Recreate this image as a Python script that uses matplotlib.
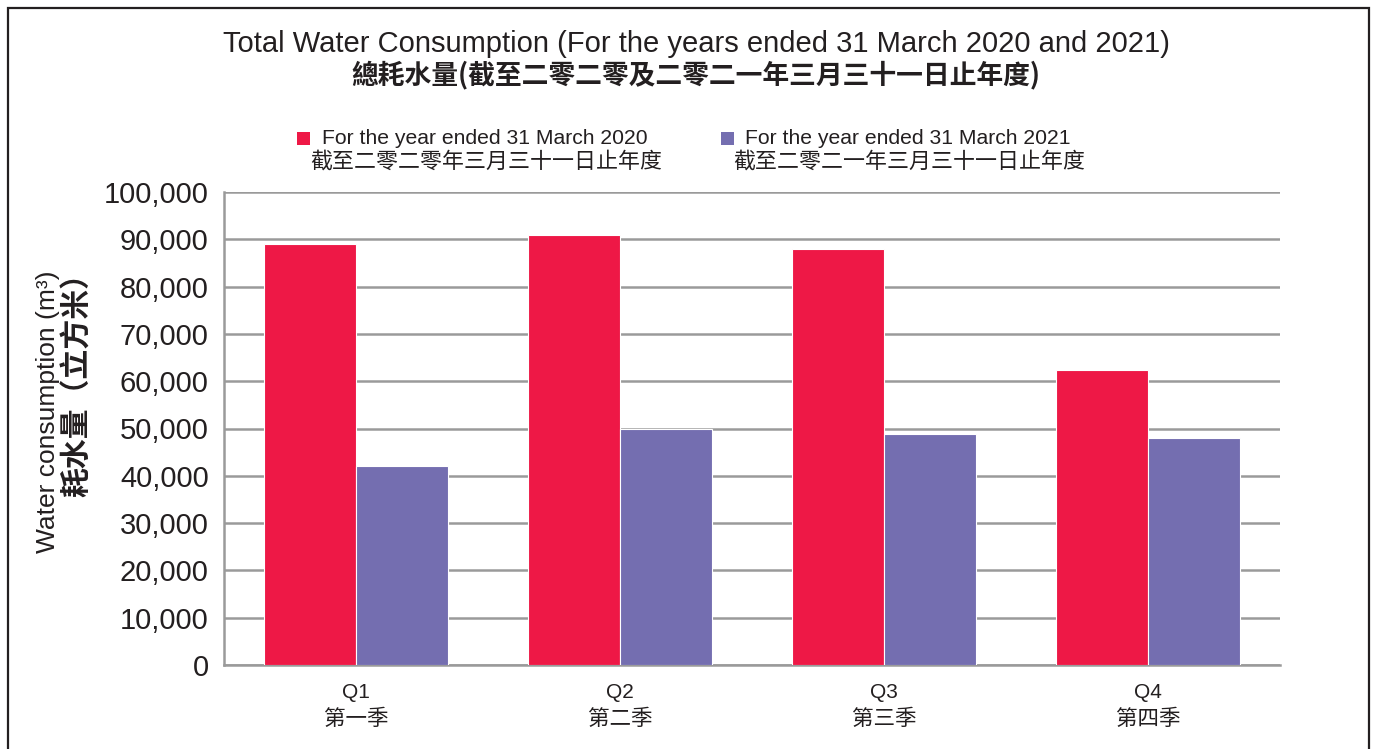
import matplotlib
matplotlib.use("Agg")
import matplotlib.pyplot as plt
from matplotlib.patches import Rectangle
from matplotlib.ticker import FuncFormatter
import numpy as np

categories_en = ["Q1", "Q2", "Q3", "Q4"]
categories_zh = ["第一季", "第二季", "第三季", "第四季"]
values_2020 = [89000, 91000, 88000, 62400]
values_2021 = [42000, 50000, 48900, 48000]
series_labels_en = ["For the year ended 31 March 2020", "For the year ended 31 March 2021"]
series_labels_zh = ["截至二零二零年三月三十一日止年度", "截至二零二一年三月三十一日止年度"]
yticks = [0, 10000, 20000, 30000, 40000, 50000, 60000, 70000, 80000, 90000, 100000]

RED = "#EE1846"
PURPLE = "#746EB0"
GRID = "#9a9a9a"
EN = ["Liberation Sans", "Noto Sans CJK TC"]
ZH = ["Noto Sans CJK TC", "Liberation Sans"]

W, H = 1377, 749
fig = plt.figure(figsize=(W / 100, H / 100), dpi=100)

def fx(px):
    return px / W

def fy(py):
    return 1 - py / H

ax = fig.add_axes([fx(224), fy(665), fx(1280) - fx(224), fy(192) - fy(665)])
x = np.arange(len(categories_en))
bw = 0.35
ax.bar(x - bw / 2, values_2020, bw, color=RED, edgecolor="white", linewidth=0.8, zorder=3)
ax.bar(x + bw / 2, values_2021, bw, color=PURPLE, edgecolor="white", linewidth=0.8, zorder=3)

ax.set_xlim(-0.5, len(categories_en) - 0.5)
ax.set_ylim(0, 100000)
ax.set_yticks(yticks)
ax.yaxis.set_major_formatter(FuncFormatter(lambda v, p: f"{int(v):,}"))
ax.grid(axis="y", color=GRID, linewidth=1.8, zorder=0)
ax.set_axisbelow(True)
for s in ["top", "right"]:
    ax.spines[s].set_visible(False)
for s in ["left", "bottom"]:
    ax.spines[s].set_color(GRID)
    ax.spines[s].set_linewidth(1.8)
ax.tick_params(axis="y", length=0, pad=11, labelsize=21, colors="#231f20")
for lab in ax.get_yticklabels():
    lab.set_family(EN)
ax.tick_params(axis="x", length=0)
ax.set_xticks(x)
ax.set_xticklabels([])
for i, (en, zh) in enumerate(zip(categories_en, categories_zh)):
    ax.text(i, -0.037, en, transform=ax.get_xaxis_transform(), ha="center", va="top",
            fontsize=15, family=EN, color="#231f20")
    ax.text(i, -0.09, zh, transform=ax.get_xaxis_transform(), ha="center", va="top",
            fontsize=15.5, family=ZH, color="#231f20", fontweight="light")

# Titles
fig.text(fx(696), fy(44), "Total Water Consumption (For the years ended 31 March 2020 and 2021)",
         ha="center", va="center", fontsize=21, family=EN, color="#231f20")
fig.text(fx(696), fy(75), "總耗水量(截至二零二零及二零二一年三月三十一日止年度)",
         ha="center", va="center", fontsize=19.3, family=ZH, fontweight="bold", color="#231f20")

# Y label
fig.text(fx(48), fy(412), "Water consumption (m³)", rotation=90, ha="center", va="center",
         fontsize=19, family=EN, color="#231f20")
fig.text(fx(77), fy(378), "耗水量（立方米）", rotation=90, ha="center", va="center",
         fontsize=21.5, family=ZH, fontweight="bold", color="#231f20")

# Legend
for (sx, tx, col, en, zh) in [(297, 322, RED, series_labels_en[0], series_labels_zh[0]),
                              (721, 745, PURPLE, series_labels_en[1], series_labels_zh[1])]:
    fig.add_artist(Rectangle((fx(sx), fy(145)), fx(13), 13 / H, transform=fig.transFigure,
                             facecolor=col, edgecolor="none"))
    fig.text(fx(tx), fy(139), en, ha="left", va="center", fontsize=15.2, family=EN, color="#231f20")
    fig.text(fx(tx - 12), fy(162), zh, ha="left", va="center", fontsize=15.8, family=ZH,
             fontweight="light", color="#231f20")

# Border
fig.add_artist(Rectangle((fx(8), fy(760)), fx(1369) - fx(8), fy(8) - fy(760), transform=fig.transFigure,
                         facecolor="none", edgecolor="#231f20", linewidth=1.6, clip_on=False))

fig.savefig("out.png", dpi=100)
